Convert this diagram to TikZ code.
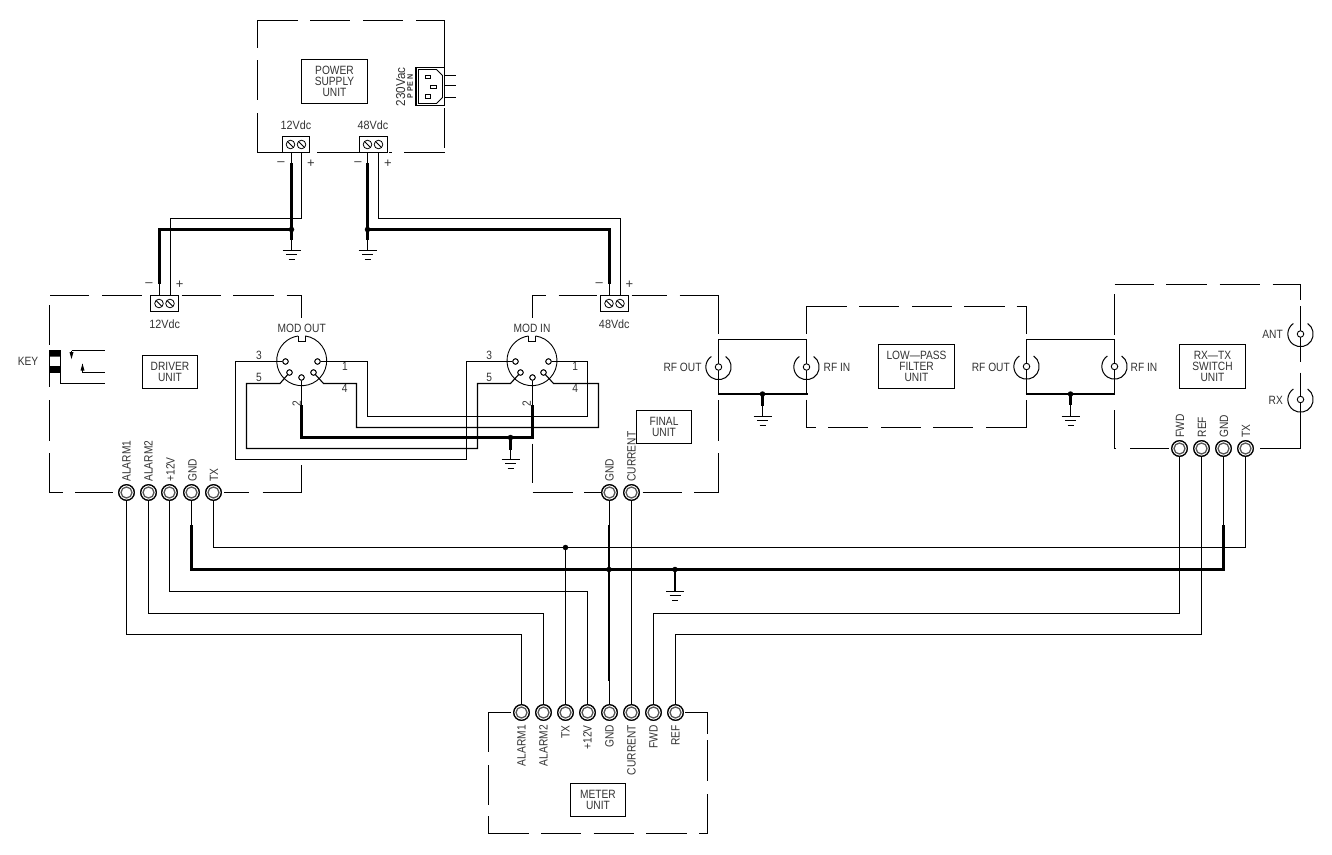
\documentclass[tikz,border=0pt]{standalone}
\usepackage{fontspec}
\setmainfont[FakeStretch=0.85]{Liberation Sans}
\newfontfamily\cadw[FakeStretch=0.9]{Liberation Sans}
\newfontfamily\cadn{Liberation Sans}
\definecolor{lbl}{gray}{0.2}
\tikzset{
  x=1pt,y=-1pt,
  wire/.style={line width=1.1pt,black},
  thick wire/.style={line width=2.6pt,black},
  dash box/.style={line width=1.1pt,black},
  unit/.style={draw,line width=1.1pt,inner sep=0pt,align=center,font=\fontsize{12}{11}\selectfont,text=lbl},
  lab/.style={font=\fontsize{12}{12}\selectfont,text=lbl,inner sep=0pt},
  vlab/.style={font=\cadw\fontsize{12}{12}\selectfont,text=lbl,inner sep=0pt},
  sgn/.style={font=\cadn\fontsize{13}{13}\selectfont,text=lbl,inner sep=0pt},
  dot/.style={circle,fill=black,draw=none,minimum size=5.5pt,inner sep=0pt},
  jackn/.style={circle,draw=black,line width=1.2pt,fill=white,minimum size=15.5pt,inner sep=0pt},
  jackin/.style={circle,draw=black!65,line width=1.3pt,minimum size=11pt,inner sep=0pt},
  pinn/.style={circle,draw=black,line width=.9pt,fill=white,minimum size=5.4pt,inner sep=0pt},
  screw/.style={circle,draw=black,line width=.8pt,minimum size=8.6pt,inner sep=0pt},
  term/.style={rectangle,draw=black,line width=1.1pt,fill=white,inner sep=0pt},
}
\newcommand{\jackat}[3]{\node[jackn] (#1) at (#2,#3) {};}
\newcommand{\jacklab}[4]{\node[lab,rotate=90,anchor=#4] at (#1,#2) {#3};}
\newcommand{\gnd}[2]{\draw[wire] (#1-9,#2) -- (#1+9,#2) (#1-5.5,#2+4) -- (#1+5.5,#2+4) (#1-3,#2+9) -- (#1+3,#2+9);}
\newcommand{\screwat}[2]{%
  \node[screw] at (#1,#2) {};
  \draw[line width=.8pt] (#1-2.8,#2-2.8) -- (#1+2.8,#2+2.8);}
\begin{document}
\begin{tikzpicture}
\useasboundingbox (0,0) rectangle (1332,854);
\fill[white] (0,0) rectangle (1332,854);

% ---------- PSU
\draw[dash box] (298,20.5) -- (257.5,20.5) -- (257.5,47.5) (257.5,60) -- (257.5,100) (257.5,113) -- (257.5,152.5) -- (282,152.5);
\draw[dash box] (310,20.5) -- (350,20.5) (363,20.5) -- (403,20.5) (416,20.5) -- (444.5,20.5) -- (444.5,67);
\draw[dash box] (444.5,108) -- (444.5,148) (444.5,152.5) -- (404,152.5) (317,152.5) -- (359,152.5) (389,152.5) -- (392,152.5);
\node[unit,minimum width=66pt,minimum height=44pt] (psu) at (334.5,81.5) {POWER\\SUPPLY\\UNIT};
\node[term,minimum width=27pt,minimum height=16pt] (t12) at (296,144.5) {};
\node[term,minimum width=28pt,minimum height=16pt] (t48) at (373.5,144.5) {};
\screwat{290.5}{144.5}\screwat{301.5}{144.5}\screwat{367.5}{144.5}\screwat{378.5}{144.5}
\node[vlab] at (296,125.5) {12Vdc};
\node[vlab] at (373,125.5) {48Vdc};
\node[sgn] at (281,164) {–};
\node[sgn] at (311,164) {+};
\node[sgn] at (358,164) {–};
\node[sgn] at (388,164) {+};
% mains inlet
\node[term,minimum width=28.5pt,minimum height=38pt] (inlet) at (430.25,86.5) {};
\draw[line width=.9pt] (418.5,69.5) -- (436.5,69.5) -- (442.5,75.5) -- (442.5,97.5) -- (436.5,103.5) -- (418.5,103.5) -- cycle;
\draw[line width=.9pt] (425.5,75) rectangle (430.5,78.5) (430.5,85) rectangle (436.5,88.5) (425.5,94.5) rectangle (430.5,98);
\draw[line width=1pt] (444.5,75.5) -- (456,75.5) (444.5,85.5) -- (456,85.5) (444.5,97.5) -- (456,97.5);
\node[vlab,rotate=90,font=\cadw\fontsize{13}{13}\selectfont] at (400.7,87) {230Vac};
\node[vlab,rotate=90,font=\cadw\bfseries\fontsize{8}{8}\selectfont] at (410,86.5) {P PE N};

% ---------- Driver
\draw[dash box] (89,295.5) -- (49.5,295.5) (49.5,305) -- (49.5,345) (49.5,373) -- (49.5,387) (49.5,400) -- (49.5,440.5) (49.5,453) -- (49.5,492.5) -- (62.5,492.5) (75,492.5) -- (113,492.5);
\draw[dash box] (102,295.5) -- (142,295.5) (181.5,295.5) -- (220.5,295.5) (233,295.5) -- (274,295.5) (286.5,295.5) -- (301.5,295.5) -- (301.5,317.5);
\draw[dash box] (224,492.5) -- (249,492.5) (262.5,492.5) -- (301.5,492.5) -- (301.5,465);
\node[term,minimum width=28pt,minimum height=16pt] (td) at (164.5,303.5) {};
\screwat{159}{303.5}\screwat{170}{303.5}
\node[vlab] at (164.7,324.5) {12Vdc};
\node[sgn] at (149,285) {–};
\node[sgn] at (179.7,285) {+};
\node[unit,minimum width=55pt,minimum height=33pt] (drv) at (170,372) {DRIVER\\UNIT};
\node[lab] at (28,361.5) {KEY};
% key
\fill (49.5,350.5) rectangle (60.5,356.7) (49.5,366) rectangle (60.5,372.7);
\draw[line width=1pt] (49.5,350.5) rectangle (60.5,372.5);
\draw[wire] (60.5,372) -- (60.5,383.5) -- (105,383.5);
\draw[wire] (71.5,350.5) -- (105,350.5) (82.5,364) -- (82.5,372.5) -- (105,372.5);
\fill (71.5,359) -- (69.5,352) -- (73.5,352) -- cycle;
\fill (82.5,363.5) -- (80.5,370.5) -- (84.5,370.5) -- cycle;
\draw[wire] (71.5,350.5) -- (71.5,353);

% ---------- DIN connectors
\draw[line width=.9pt] (301.7,360.7) ++(-82:25) arc[start angle=-82,end angle=262,radius=25];
\draw[line width=.9pt] (532,360.7) ++(-82:25) arc[start angle=-82,end angle=262,radius=25];
\draw[line width=.9pt] (298.2,336) -- (298.2,341) -- (305.2,341) -- (305.2,336);
\draw[line width=.9pt] (528.5,336) -- (528.5,341) -- (535.5,341) -- (535.5,336);
\node[pinn] (mo3) at (285.5,361.5) {};
\node[pinn] (mo1) at (317.5,361.5) {};
\node[pinn] (mo5) at (289.5,372.5) {};
\node[pinn] (mo4) at (313.5,372.5) {};
\node[pinn] (mo2) at (301.5,377.5) {};
\node[pinn] (mi3) at (515.5,361.5) {};
\node[pinn] (mi1) at (548.5,361.5) {};
\node[pinn] (mi5) at (520.5,372.5) {};
\node[pinn] (mi4) at (543.5,372.5) {};
\node[pinn] (mi2) at (532.5,377.5) {};
\node[lab] at (301.7,328) {MOD OUT};
\node[lab] at (532,328) {MOD IN};
\foreach \xa/\ya/\t in {259/355.7/3,259/377.7/5,345/366.7/1,344.7/388.3/4,489.3/355.7/3,489.3/377.7/5,575.3/366.7/1,575.3/388.3/4}{\node[lab] at (\xa,\ya) {\t};}
\node[lab,rotate=90] at (296.7,404) {2};
\node[lab,rotate=90] at (526.7,404) {2};
% wiring between connectors
\draw[wire] (mo3) -- (235.5,361.5) -- (235.5,459.5) -- (466.5,459.5) -- (466.5,361.5) -- (mi3);
\draw[wire] (mo1) -- (367.5,361.5) -- (367.5,416.5) -- (587.5,416.5) -- (587.5,361.5) -- (mi1);
\draw[wire] (mo5) -- (280,383.5) -- (246.5,383.5) -- (246.5,448.5) -- (477.5,448.5) -- (477.5,383.5) -- (510.5,383.5) -- (mi5);
\draw[wire] (mo4) -- (323.5,383.5) -- (356.5,383.5) -- (356.5,427.5) -- (598.5,427.5) -- (598.5,383.5) -- (553.5,383.5) -- (mi4);
\draw[wire] (mo2) -- (301.5,405);
\draw[wire] (mi2) -- (532.5,405);
\draw[thick wire,line join=miter] (301.5,405) -- (301.5,437.5) -- (532.5,437.5) -- (532.5,405);
\node[dot] (dm) at (510.5,437.5) {};
\draw[thick wire] (dm.center) -- (510.5,450);
\draw[wire] (510.5,450) -- (510.5,459.5);
\gnd{510.5}{459.5}
\foreach \p in {mo3,mo1,mo5,mo4,mo2,mi3,mi1,mi5,mi4,mi2}{\node[pinn] at (\p) {};}

% ---------- Final
\draw[dash box] (532.5,317.5) -- (532.5,295.5) -- (546,295.5) (558.5,295.5) -- (597,295.5) (631.5,295.5) -- (666.5,295.5) (679.5,295.5) -- (718.5,295.5) -- (718.5,333.5);
\draw[dash box] (532.5,443.5) -- (532.5,482.5) (532.5,492.5) -- (572.5,492.5) (584,492.5) -- (601,492.5) (642.5,492.5) -- (682,492.5) (694,492.5) -- (718.5,492.5) -- (718.5,452.5) (718.5,440.5) -- (718.5,400);
\node[term,minimum width=28pt,minimum height=16pt] (tf) at (614.5,303.5) {};
\screwat{609}{303.5}\screwat{620}{303.5}
\node[vlab] at (614.3,324.5) {48Vdc};
\node[sgn] at (599.3,285) {–};
\node[sgn] at (629.3,285) {+};
\node[unit,minimum width=55pt,minimum height=33pt] (fin) at (664,427) {FINAL\\UNIT};

% ---------- RF links
\draw[wire] (718.5,394) -- (718.5,339.5) -- (806.5,339.5) -- (806.5,394);
\draw[thick wire] (718,394) -- (807.5,394);
\node[dot] (d1) at (762.5,394) {};
\draw[thick wire] (d1.center) -- (762.5,405.5);
\draw[wire] (762.5,405.5) -- (762.5,416.5);
\gnd{762.5}{416.5}
\draw[wire] (1026.5,394) -- (1026.5,339.5) -- (1114.5,339.5) -- (1114.5,394);
\draw[thick wire] (1025.5,394) -- (1115,394);
\node[dot] (d2) at (1070.5,394) {};
\draw[thick wire] (d2.center) -- (1070.5,405);
\draw[wire] (1070.5,405) -- (1070.5,416.5);
\gnd{1070.5}{416.5}
\foreach \nm/\xa/\ya in {b1/718.5/367,b2/806.5/367,b3/1026.5/366.5,b4/1114.5/366.5}{
  \draw[line width=1pt] (\xa,\ya) ++(-56:12.7) arc[start angle=-56,end angle=236,radius=12.7];
  \node[pinn,minimum size=6.5pt] (\nm) at (\xa,\ya) {};
}
\node[lab,anchor=east] at (701.7,367) {RF OUT};
\node[lab,anchor=west] at (823.5,367) {RF IN};
\node[lab,anchor=east] at (1010,367) {RF OUT};
\node[lab,anchor=west] at (1130.5,367) {RF IN};

% ---------- LPF
\draw[dash box] (806.5,333.5) -- (806.5,306.5) -- (846.5,306.5) (859,306.5) -- (899,306.5) (912,306.5) -- (952,306.5) (964,306.5) -- (1005,306.5) (1016.5,306.5) -- (1026.5,306.5) -- (1026.5,333.5);
\draw[dash box] (806.5,399.5) -- (806.5,427.5) -- (816,427.5) (828,427.5) -- (868,427.5) (881,427.5) -- (921,427.5) (933,427.5) -- (973,427.5) (986,427.5) -- (1026.5,427.5) -- (1026.5,399.5);
\node[unit,minimum width=76pt,minimum height=44pt] (lpf) at (916.5,366.5) {LOW—PASS\\FILTER\\UNIT};

% ---------- RX-TX
\draw[dash box] (1114.5,294) -- (1114.5,334.5) (1114.5,284.5) -- (1154,284.5) (1166,284.5) -- (1206.5,284.5) (1219.5,284.5) -- (1260,284.5) (1272.5,284.5) -- (1300.5,284.5) -- (1300.5,300);
\draw[dash box] (1300.5,306) -- (1300.5,361.5) (1300.5,372.5) -- (1300.5,448.5) -- (1260,448.5) (1168.5,448.5) -- (1129.5,448.5) (1116,448.5) -- (1114.5,448.5) -- (1114.5,409.5);
\foreach \nm/\xa/\ya in {b5/1300.5/334,b6/1300.5/399.5}{
  \draw[line width=1pt] (\xa,\ya) ++(-56:12.7) arc[start angle=-56,end angle=236,radius=12.7];
  \node[pinn,minimum size=6.5pt] (\nm) at (\xa,\ya) {};
}
\node[unit,minimum width=66pt,minimum height=44pt] (rxtx) at (1212.5,366.5) {RX—TX\\SWITCH\\UNIT};
\node[lab,anchor=east] at (1283,334) {ANT};
\node[lab,anchor=east] at (1283,400) {RX};

% ---------- Meter
\draw[dash box] (510.5,712.5) -- (488.5,712.5) -- (488.5,751.5) (488.5,765) -- (488.5,804.5) (488.5,816) -- (488.5,833.5) -- (528.5,833.5) (541,833.5) -- (580.5,833.5) (593.5,833.5) -- (634,833.5) (646,833.5) -- (686.5,833.5) (699,833.5) -- (707.5,833.5) -- (707.5,793.5) (707.5,780.5) -- (707.5,740) (707.5,733.5) -- (707.5,712.5) -- (685,712.5);
\node[unit,minimum width=55pt,minimum height=33pt] (met) at (598,800) {METER\\UNIT};

% ---------- Jacks
\jackat{ja1}{126.5}{492.5}\jackat{ja2}{148.5}{492.5}\jackat{jp}{169.5}{492.5}\jackat{jg}{191.5}{492.5}\jackat{jt}{213.5}{492.5}
\jackat{fg}{609.5}{492.5}\jackat{fc}{631.5}{492.5}
\jackat{sf}{1179.5}{448.5}\jackat{sr}{1201.5}{448.5}\jackat{sg}{1223.5}{448.5}\jackat{st}{1245.5}{448.5}
\jackat{ma1}{521.5}{712.5}\jackat{ma2}{543.5}{712.5}\jackat{mt}{565.5}{712.5}\jackat{mp}{587.5}{712.5}\jackat{mg}{609.5}{712.5}\jackat{mc}{631.5}{712.5}\jackat{mf}{653.5}{712.5}\jackat{mr}{675.5}{712.5}

\jacklab{126.5}{481.7}{ALARM1}{west}
\jacklab{148.5}{481.7}{ALARM2}{west}
\jacklab{170.5}{481.7}{+12V}{west}
\jacklab{192.5}{481.7}{GND}{west}
\jacklab{214}{481.7}{TX}{west}
\jacklab{609.5}{481.7}{GND}{west}
\jacklab{631.5}{481.7}{CURRENT}{west}
\jacklab{1180}{437.5}{FWD}{west}
\jacklab{1202}{437.5}{REF}{west}
\jacklab{1224}{437.5}{GND}{west}
\jacklab{1246}{437.5}{TX}{west}
\jacklab{521.5}{725}{ALARM1}{east}
\jacklab{543.5}{725}{ALARM2}{east}
\jacklab{565.5}{725}{TX}{east}
\jacklab{587.5}{725}{+12V}{east}
\jacklab{609.5}{725}{GND}{east}
\jacklab{631.5}{725}{CURRENT}{east}
\jacklab{653.5}{725}{FWD}{east}
\jacklab{675.5}{725}{REF}{east}

% ---------- Supply wiring
\draw[wire] (291.5,152.5) -- (291.5,250.5);
\draw[thick wire] (291.5,163) -- (291.5,240);
\gnd{291.5}{250.5}
\draw[wire] (367.5,152.5) -- (367.5,250.5);
\draw[thick wire] (367.5,163) -- (367.5,240);
\gnd{367.5}{250.5}
\node[dot] (ds1) at (291.5,229.5) {};
\node[dot] (ds2) at (367.5,229.5) {};
\draw[thick wire,line join=miter] (ds1.center) -- (159.5,229.5) -- (159.5,284);
\draw[wire] (159.5,284) -- (159.5,295.5);
\draw[thick wire,line join=miter] (ds2.center) -- (609.5,229.5) -- (609.5,284);
\draw[wire] (609.5,284) -- (609.5,295.5);
\draw[wire] (301.5,152.5) -- (301.5,218.5) -- (170.5,218.5) -- (170.5,295.5);
\draw[wire] (378.5,152.5) -- (378.5,218.5) -- (620.5,218.5) -- (620.5,295.5);

% ---------- Bus wiring
\draw[wire] (ja1) -- (126.5,634.5) -- (521.5,634.5) -- (ma1);
\draw[wire] (ja2) -- (148.5,613.5) -- (543.5,613.5) -- (ma2);
\draw[wire] (jp) -- (169.5,591.5) -- (587.5,591.5) -- (mp);
\draw[wire] (jg) -- (191.5,525);
\draw[thick wire,line join=miter] (191.5,525) -- (191.5,569.5) -- (1223.5,569.5) -- (1223.5,525);
\draw[wire] (1223.5,525) -- (sg);
\draw[wire] (jt) -- (213.5,547.5) -- (1245.5,547.5) -- (st);
\node[dot] (db) at (565.5,547.5) {};
\draw[wire] (db) -- (mt);
\draw[wire] (fg) -- (mg);
\draw[thick wire] (609,525) -- (609,681);
\node[dot] (dg) at (609,569.5) {};
\node[dot] (dk) at (675,569.5) {};
\draw[thick wire] (dk.center) -- (675,580);
\draw[wire] (675,580) -- (675,591.5);
\gnd{675}{591.5}
\draw[wire] (fc) -- (mc);
\draw[wire] (sf) -- (1179.5,613.5) -- (653.5,613.5) -- (mf);
\draw[wire] (sr) -- (1201.5,634.5) -- (675.5,634.5) -- (mr);
\foreach \j in {ja1,ja2,jp,jg,jt,fg,fc,sf,sr,sg,st,ma1,ma2,mt,mp,mg,mc,mf,mr}{
  \node[jackn] at (\j) {};
  \node[jackin] at (\j) {};
}
\end{tikzpicture}
\end{document}
